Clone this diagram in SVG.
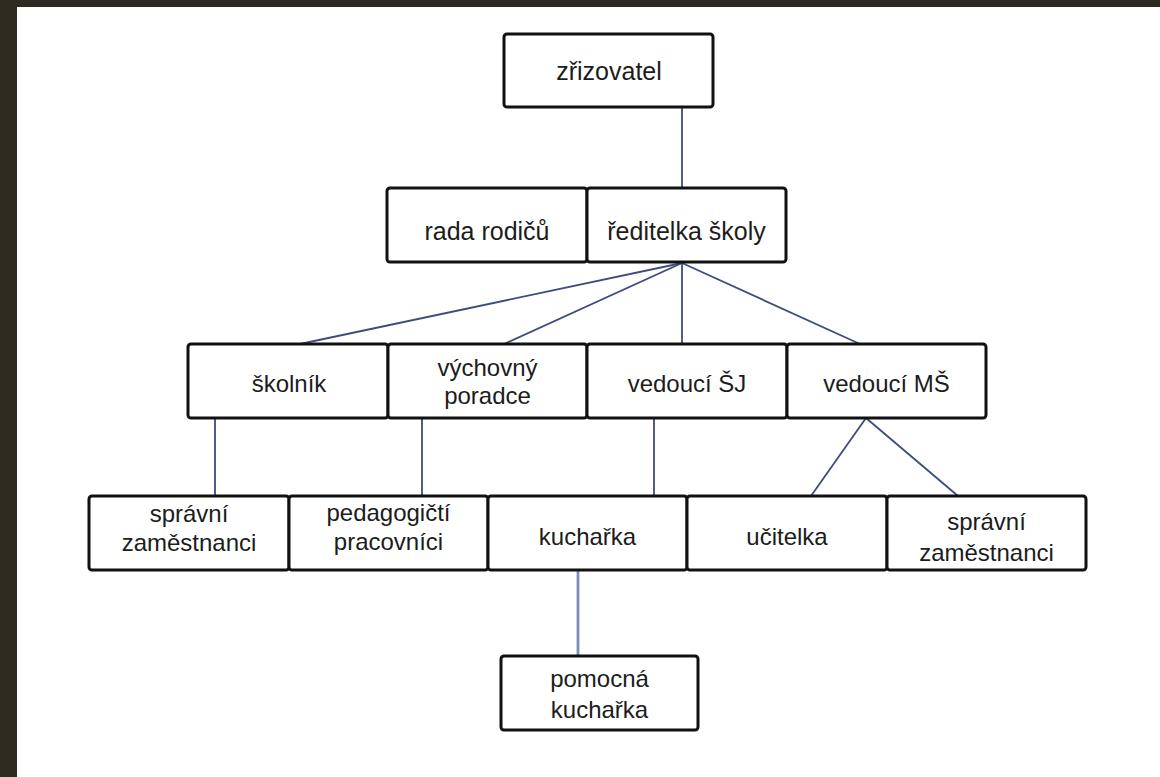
<svg xmlns="http://www.w3.org/2000/svg" width="1160" height="777" viewBox="0 0 1160 777">
  <style>
    .box rect { fill: #ffffff; stroke: #111111; stroke-width: 3; }
    .box text { font-family: "Liberation Sans", Arial, sans-serif; font-size: 24px; fill: #1c1c1c; text-anchor: middle; }
    .big text { font-size: 25px; }
    #connectors line { stroke: #3e4c7c; stroke-width: 1.8; fill: none; }
    #connectors line.soft { stroke: #7d8db6; stroke-width: 2.8; }
  </style>

  <!-- page frame -->
  <rect x="0" y="0" width="1160" height="777" fill="#ffffff"/>
  <rect x="0" y="0" width="1160" height="7" fill="#2f2b20"/>
  <rect x="0" y="0" width="17" height="777" fill="#2f2b20"/>

  <!-- connectors -->
  <g id="connectors">
    <line x1="682" y1="107" x2="682" y2="188"/>
    <line x1="682" y1="263" x2="300" y2="344"/>
    <line x1="682" y1="263" x2="504" y2="344"/>
    <line x1="682" y1="263" x2="682" y2="344"/>
    <line x1="682" y1="263" x2="860" y2="344"/>
    <line x1="215" y1="418" x2="215" y2="496"/>
    <line x1="422" y1="418" x2="422" y2="496"/>
    <line x1="654" y1="418" x2="654" y2="496"/>
    <line x1="866" y1="418" x2="811" y2="496"/>
    <line x1="866" y1="418" x2="958" y2="496"/>
    <line class="soft" x1="578" y1="570" x2="578" y2="656"/>
  </g>

  <!-- level 1 -->
  <g id="zrizovatel" class="box big">
    <rect x="504" y="34" width="209" height="73" rx="3"/>
    <text x="609" y="80">zřizovatel</text>
  </g>

  <!-- level 2 -->
  <g id="rada-rodicu" class="box big">
    <rect x="387" y="188" width="200" height="74" rx="3"/>
    <text x="487" y="240">rada rodičů</text>
  </g>
  <g id="reditelka" class="box big">
    <rect x="587" y="188" width="199" height="74" rx="3"/>
    <text x="686.5" y="240">ředitelka školy</text>
  </g>

  <!-- level 3 -->
  <g id="skolnik" class="box">
    <rect x="188" y="344" width="200" height="74" rx="3"/>
    <text x="289" y="392">školník</text>
  </g>
  <g id="vychovny-poradce" class="box">
    <rect x="388" y="344" width="199" height="74" rx="3"/>
    <text x="487.5" y="376">výchovný</text>
    <text x="487.5" y="404">poradce</text>
  </g>
  <g id="vedouci-sj" class="box">
    <rect x="587" y="344" width="200" height="74" rx="3"/>
    <text x="687" y="392">vedoucí ŠJ</text>
  </g>
  <g id="vedouci-ms" class="box">
    <rect x="787" y="344" width="199" height="74" rx="3"/>
    <text x="886.5" y="392">vedoucí MŠ</text>
  </g>

  <!-- level 4 -->
  <g id="spravni-1" class="box">
    <rect x="89" y="496" width="200" height="74" rx="3"/>
    <text x="189" y="522">správní</text>
    <text x="189" y="551">zaměstnanci</text>
  </g>
  <g id="pedagogicti" class="box">
    <rect x="289" y="496" width="199" height="74" rx="3"/>
    <text x="388.5" y="521">pedagogičtí</text>
    <text x="388.5" y="550">pracovníci</text>
  </g>
  <g id="kucharka" class="box">
    <rect x="488" y="496" width="199" height="74" rx="3"/>
    <text x="587.5" y="545">kuchařka</text>
  </g>
  <g id="ucitelka" class="box">
    <rect x="687" y="496" width="200" height="74" rx="3"/>
    <text x="787" y="545">učitelka</text>
  </g>
  <g id="spravni-2" class="box">
    <rect x="887" y="496" width="199" height="74" rx="3"/>
    <text x="986.5" y="530">správní</text>
    <text x="986.5" y="561">zaměstnanci</text>
  </g>

  <!-- level 5 -->
  <g id="pomocna-kucharka" class="box">
    <rect x="501" y="656" width="197" height="74" rx="3"/>
    <text x="599.5" y="687">pomocná</text>
    <text x="599.5" y="718">kuchařka</text>
  </g>
</svg>
